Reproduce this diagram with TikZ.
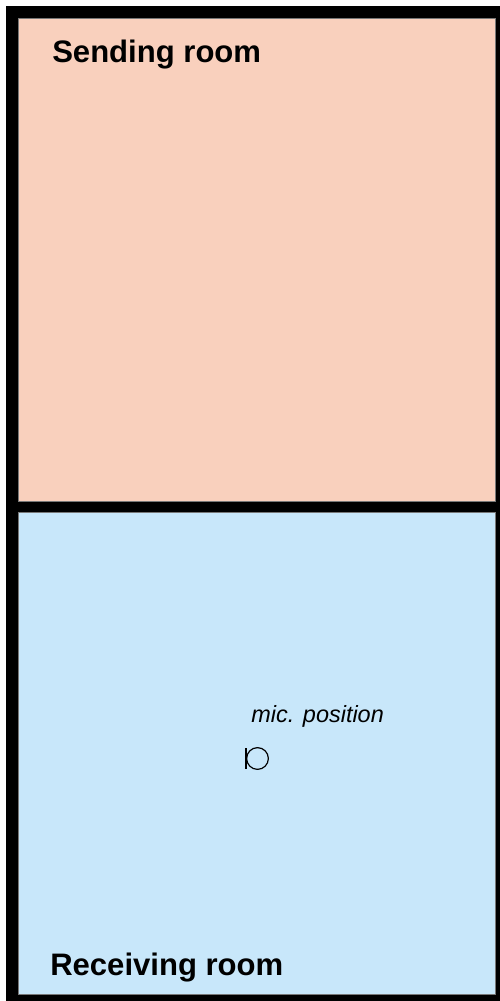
\documentclass[tikz,border=0pt]{standalone}
\usepackage{fontspec}
\setmainfont{Liberation Sans}
\usepackage{tikz}
\definecolor{SendColor}{RGB}{249,208,189}
\definecolor{RecvColor}{RGB}{200,231,250}
\definecolor{EdgeColor}{RGB}{120,120,120}

\begin{document}
\begin{tikzpicture}[x=0.75pt,y=-0.75pt,
   room/.style={#1,draw=EdgeColor,line width=0.5pt},
   roomname/.style={anchor=base west,inner sep=0pt,font=\bfseries\fontsize{23.3}{28}\selectfont},
   micname/.style={anchor=base west,inner sep=0pt,font=\itshape\fontsize{17.6}{21}\selectfont}]
\useasboundingbox (0,0) rectangle (500,1001);
% walls
\fill[black] (6,6) rectangle (500,1001);
% the two rooms
\filldraw[room=SendColor] (18,18) rectangle (495,501);
\filldraw[room=RecvColor] (18,512) rectangle (495,994);
\node[roomname] (send) at (52,62) {Sending room};
\node[roomname] (recv) at (50,975) {Receiving room};
% microphone
\node[micname] (miclabel) at (251,722) {mic. position};
\node[circle,draw,line width=0.9pt,minimum size=16.3pt,inner sep=0pt] (mic) at (257.5,758.5) {};
\draw[line width=0.9pt] (mic.west) ++(0,-10.5) -- ++(0,21);
\end{tikzpicture}
\end{document}
